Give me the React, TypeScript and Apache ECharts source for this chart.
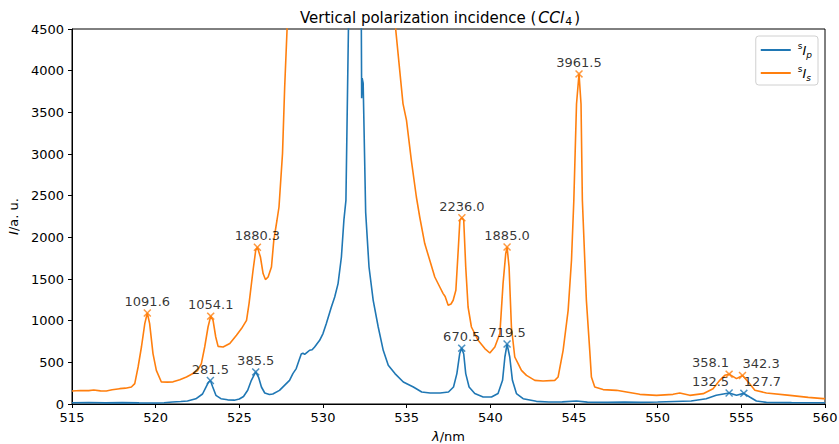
import React, { useEffect, useRef } from "react";
import * as echarts from "echarts";

// ---- data ----
const lambdaP = [
  515.0, 516.0, 517.0, 518.0, 519.0, 520.0, 520.5, 521.0, 521.5, 521.9, 522.4, 522.8, 523.0, 523.15, 523.27,
  523.4, 523.6, 523.9, 524.3, 524.7, 525.0, 525.25, 525.5, 525.72, 525.98, 526.15, 526.32, 526.52, 526.8,
  527.0, 527.4, 527.7, 528.0, 528.2, 528.4, 528.57, 528.7, 528.8, 528.9, 529.05, 529.2, 529.35, 529.5, 529.8,
  530.0, 530.2, 530.5, 530.7, 530.9, 531.1, 531.25, 531.37, 531.52, 531.7, 531.9, 532.1, 532.28, 532.31,
  532.34, 532.4, 532.55, 532.75, 533.0, 533.3, 533.6, 533.9, 534.3, 534.8, 535.4, 535.9, 536.4, 537.0,
  537.5, 537.8, 538.0, 538.17, 538.29, 538.41, 538.53, 538.73, 539.07, 539.57, 540.07, 540.46, 540.73,
  540.87, 541.0, 541.16, 541.32, 541.56, 541.96, 542.75, 543.5, 544.3, 545.15, 545.8, 547.0, 548.0, 549.0,
  550.0, 551.0, 552.0, 552.9, 553.5, 554.27, 554.71, 555.15, 555.5, 555.9, 556.5, 558.0, 560.0,
];
const intensityP = [
  15, 18, 14, 16, 13, 12, 15, 24, 30, 36, 62, 120, 200, 260, 281.5,
  210, 104, 64, 50, 46, 60, 90, 165, 284, 385.5, 320, 204, 132, 113,
  120, 164, 224, 284, 365, 425, 525, 600, 610, 595, 620, 645, 650, 685, 764,
  845, 965, 1164, 1284, 1445, 1764, 2210, 2444, 4500, 9000, 12000, 9000, 5000, 3670,
  3910, 3850, 2300, 1644, 1244, 924, 644, 464, 365, 264, 204, 144, 132, 132,
  144, 204, 365, 605, 670.5, 600, 365, 204, 125, 84, 84, 125, 284,
  564, 719.5, 564, 284, 125, 64, 32, 24, 25, 36, 22, 20, 22, 20,
  24, 30, 36, 64, 104, 132.5, 104, 127.7, 84, 36, 20, 16, 15,
];

const lambdaS = [
  515.0, 515.5, 516.0, 516.3, 516.7, 517.05, 517.4, 517.85, 518.2, 518.55, 518.75, 518.95, 519.15, 519.35,
  519.5, 519.64, 519.84, 520.04, 520.34, 520.7, 521.04, 521.44, 521.84, 522.23, 522.5, 522.73, 522.93,
  523.13, 523.29, 523.43, 523.59, 523.73, 524.03, 524.43, 524.83, 525.13, 525.43, 525.58, 525.82, 525.98,
  526.08, 526.26, 526.42, 526.56, 526.72, 526.92, 527.06, 527.25, 527.37, 527.58, 527.71, 527.85, 528.2,
  529.5, 531.0, 532.0, 533.0, 534.0, 534.35, 534.78, 534.99, 535.28, 535.58, 535.78, 536.08, 536.38, 536.68,
  536.98, 537.18, 537.3, 537.48, 537.65, 537.78, 537.94, 538.08, 538.18, 538.3, 538.41, 538.53, 538.67,
  538.87, 539.27, 539.67, 539.97, 540.27, 540.57, 540.76, 540.92, 541.0, 541.12, 541.26, 541.46, 541.66,
  541.86, 542.16, 542.66, 543.15, 543.85, 544.05, 544.35, 544.65, 544.85, 544.99, 545.15, 545.3, 545.42,
  545.5, 545.74, 545.94, 546.04, 546.24, 546.74, 547.54, 548.14, 548.93, 549.93, 550.92, 551.32, 551.92,
  552.72, 553.31, 553.71, 554.01, 554.27, 554.71, 555.07, 555.41, 555.81, 556.5, 557.9, 559.0, 559.89, 560.0,
];
const intensityS = [
  156, 162, 160, 168, 158, 156, 170, 184, 190, 204, 244, 444, 684, 965,
  1091.6, 965, 605, 404, 264, 262, 266, 292, 324, 365, 400, 485, 684,
  924, 1054.1, 1004, 804, 692, 684, 725, 825, 905, 1004, 1205, 1605, 1845,
  1880.3, 1764, 1565, 1493, 1524, 1644, 1965, 2205, 2364, 3004, 3804, 4484, 7000,
  15000, 25000, 30000, 20000, 6000, 4484, 3605, 3404, 2924, 2484, 2244, 1925, 1725, 1524,
  1404, 1325, 1290, 1185, 1200, 1245, 1365, 1845, 2205, 2236.0, 2205, 1644, 1164,
  924, 764, 665, 612, 684, 845, 1445, 1805, 1885.0, 1644, 924, 564, 485,
  404, 344, 284, 276, 284, 324, 644, 1124, 1725, 2444, 3600, 3961.5, 3600,
  2444, 1244, 644, 324, 204, 173, 164, 144, 116, 104, 116, 132, 104,
  124, 184, 284, 344, 358.1, 304, 342.3, 264, 164, 132, 104, 80, 64, 64,
];

const peakLambdaP = [523.27, 525.98, 538.29, 541.0, 554.27, 555.15];
const peakValueP = [281.5, 385.5, 670.5, 719.5, 132.5, 127.7];
const peakAlignP = ["center", "center", "center", "center", "right", "left"];

const peakLambdaS = [519.5, 523.29, 526.08, 538.3, 541.0, 545.3, 554.27, 555.07];
const peakValueS = [1091.6, 1054.1, 1880.3, 2236.0, 1885.0, 3961.5, 358.1, 342.3];
const peakAlignS = ["center", "center", "center", "center", "center", "center", "right", "left"];

const seriesNames = ["sIp", "sIs"];
const xTicks = { min: 515, max: 560, interval: 5 };
const yTicks = { min: 0, max: 4500, interval: 500 };

const BLUE = "#1f77b4";
const ORANGE = "#ff7f0e";
const FONT = "DejaVu Sans";
const XMARK =
  "path://M0,1.3L1.3,0L5,3.7L8.7,0L10,1.3L6.3,5L10,8.7L8.7,10L5,6.3L1.3,10L0,8.7L3.7,5Z";

const zip = (xs: number[], ys: number[]) => xs.map((x, i) => [x, ys[i]]);

const peakData = (xs: number[], ys: number[], aligns: string[]) =>
  xs.map((x, i) => ({
    value: [x, ys[i]],
    label: { align: aligns[i] },
  }));

export default function App() {
  const ref = useRef<HTMLDivElement>(null);

  useEffect(() => {
    if (!ref.current) return;
    const chart = echarts.init(ref.current, undefined, { renderer: "svg" });
    const peakLabel = {
      show: true,
      position: "top",
      distance: 1,
      color: "#000",
      fontFamily: FONT,
      fontSize: 13,
      formatter: (p: any) => Number(p.value[1]).toFixed(1),
    };
    chart.setOption({
      animation: false,
      backgroundColor: "#fff",
      textStyle: { fontFamily: FONT },
      title: {
        text: "{n|Vertical polarization incidence (}{it|CCl}{sub|4}{n|)}",
        left: 295,
        top: 3,
        textStyle: {
          fontFamily: FONT,
          fontWeight: "normal",
          fontSize: 15,
          color: "#000",
          rich: {
            n: { fontSize: 15, fontFamily: FONT, fontWeight: "normal", color: "#000", lineHeight: 20, verticalAlign: "middle" },
            it: { fontSize: 15.5, fontFamily: FONT, fontWeight: "normal", fontStyle: "italic", color: "#000", lineHeight: 20, verticalAlign: "middle", padding: [0, 1, 0, 2] },
            sub: { fontSize: 11, fontFamily: FONT, fontWeight: "normal", color: "#000", lineHeight: 11, verticalAlign: "bottom", padding: [0, 2, 1, 0] },
          },
        },
      },
      legend: {
        data: seriesNames,
        orient: "vertical",
        right: 21,
        top: 36,
        padding: [5, 6, 3, 5],
        itemGap: 5,
        itemWidth: 30,
        itemHeight: 2,
        icon: "rect",
        backgroundColor: "#fff",
        borderColor: "#d0d0d0",
        borderWidth: 1,
        borderRadius: 3,
        formatter: (name: string) =>
          name === "sIp" ? "{sup|s}{it|I}{sub|p}" : "{sup|s}{it|I}{sub|s}",
        textStyle: {
          fontFamily: FONT,
          padding: [0, 0, 0, 2],
          rich: {
            sup: { fontSize: 9, fontFamily: FONT, color: "#000", lineHeight: 9, verticalAlign: "top" },
            it: { fontSize: 13, fontFamily: FONT, fontStyle: "italic", color: "#000", lineHeight: 18, verticalAlign: "middle" },
            sub: { fontSize: 9, fontFamily: FONT, fontStyle: "italic", color: "#000", lineHeight: 9, verticalAlign: "bottom" },
          },
        },
      },
      grid: {
        left: 72,
        right: 14,
        top: 29,
        bottom: 40,
        show: true,
        borderColor: "#000",
        borderWidth: 1,
        backgroundColor: "transparent",
        containLabel: false,
        outerBoundsMode: "none",
      },
      xAxis: {
        type: "value",
        min: xTicks.min,
        max: xTicks.max,
        interval: xTicks.interval,
        name: "{it|λ}{n|/nm}",
        nameLocation: "middle",
        nameGap: 26,
        nameTextStyle: {
          rich: {
            it: { fontSize: 13, fontFamily: FONT, fontStyle: "italic", color: "#000" },
            n: { fontSize: 13, fontFamily: FONT, color: "#000" },
          },
        },
        axisLine: { show: true, lineStyle: { color: "#000", width: 1 } },
        axisTick: { show: true, inside: false, length: 4, lineStyle: { color: "#000" } },
        axisLabel: {
          color: "#000",
          fontSize: 13,
          fontFamily: FONT,
          margin: 7,
          formatter: (v: number) => String(v),
        },
        splitLine: { show: false },
      },
      yAxis: {
        type: "value",
        min: yTicks.min,
        max: yTicks.max,
        interval: yTicks.interval,
        name: "{it|I}{n|/a. u.}",
        nameLocation: "middle",
        nameGap: 50,
        nameRotate: 90,
        nameTextStyle: {
          rich: {
            it: { fontSize: 13, fontFamily: FONT, fontStyle: "italic", color: "#000" },
            n: { fontSize: 13, fontFamily: FONT, color: "#000" },
          },
        },
        axisLine: { show: true, lineStyle: { color: "#000", width: 1 } },
        axisTick: { show: true, inside: false, length: 4, lineStyle: { color: "#000" } },
        axisLabel: {
          color: "#000",
          fontSize: 13,
          fontFamily: FONT,
          margin: 8,
          formatter: (v: number) => String(v),
        },
        splitLine: { show: false },
      },
      series: [
        {
          name: seriesNames[0],
          type: "line",
          data: zip(lambdaP, intensityP),
          showSymbol: false,
          symbol: "none",
          clip: true,
          lineStyle: { color: BLUE, width: 1.6 },
          itemStyle: { color: BLUE },
          z: 2,
        },
        {
          name: seriesNames[1],
          type: "line",
          data: zip(lambdaS, intensityS),
          showSymbol: false,
          symbol: "none",
          clip: true,
          lineStyle: { color: ORANGE, width: 1.6 },
          itemStyle: { color: ORANGE },
          z: 3,
        },
        {
          name: "peaksP",
          type: "scatter",
          data: peakData(peakLambdaP, peakValueP, peakAlignP),
          symbol: XMARK,
          symbolSize: 8,
          itemStyle: { color: BLUE },
          label: peakLabel,
          z: 4,
        },
        {
          name: "peaksS",
          type: "scatter",
          data: peakData(peakLambdaS, peakValueS, peakAlignS),
          symbol: XMARK,
          symbolSize: 8,
          itemStyle: { color: ORANGE },
          label: peakLabel,
          z: 5,
        },
      ],
    });
    return () => chart.dispose();
  }, []);

  return (
    <div
      ref={ref}
      style={{ position: "fixed", left: 0, top: 0, width: 839, height: 444, background: "#fff" }}
    />
  );
}
